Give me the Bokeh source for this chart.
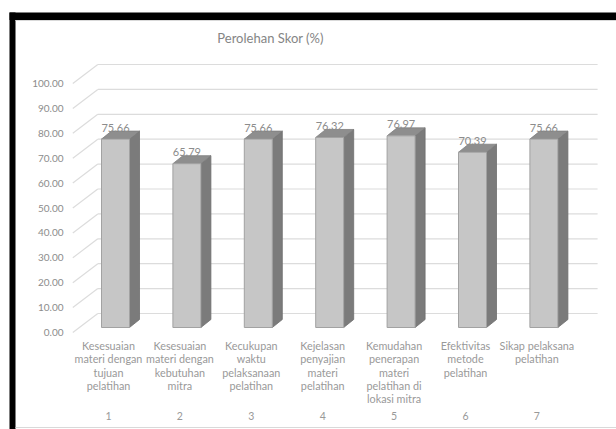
from bokeh.plotting import figure
from bokeh.models import Range1d
from bokeh.embed import file_html
from bokeh.resources import INLINE
from bokeh.core.properties import value

# ---------------- data ----------------
title_text = "Perolehan Skor (%)"
categories = [
    "Kesesuaian\nmateri dengan\ntujuan\npelatihan",
    "Kesesuaian\nmateri dengan\nkebutuhan\nmitra",
    "Kecukupan\nwaktu\npelaksanaan\npelatihan",
    "Kejelasan\npenyajian\nmateri\npelatihan",
    "Kemudahan\npenerapan\nmateri\npelatihan di\nlokasi mitra",
    "Efektivitas\nmetode\npelatihan",
    "Sikap pelaksana\npelatihan",
]
numbers = ["1", "2", "3", "4", "5", "6", "7"]
scores = [75.66, 65.79, 75.66, 76.32, 76.97, 70.39, 75.66]
y_ticks = [0, 10, 20, 30, 40, 50, 60, 70, 80, 90, 100]
y_tick_labels = ["%.2f" % t for t in y_ticks]

# ---------------- geometry ----------------
W, H = 616, 429
CAT_PX = 71.4        # pixels per category
VAL_PX = 2.49        # pixels per value unit
X_ORIGIN_PX = 72.3   # left end of front floor edge
Y_ORIGIN_PX = 332    # front floor edge (value 0)

X0 = 0.5 - X_ORIGIN_PX / CAT_PX
X1 = X0 + W / CAT_PX
Y1 = Y_ORIGIN_PX / VAL_PX
Y0 = Y1 - H / VAL_PX


def dxp(px):
    return X0 + px / CAT_PX


def dyp(py):
    return Y1 - py / VAL_PX


WALL_DX = 25 / CAT_PX
WALL_DY = 19 / VAL_PX
BAR_SHIFT_X = 7 / CAT_PX
BAR_BASE = 5 / VAL_PX
BAR_W = 28 / CAT_PX
BAR_DX = 10 / CAT_PX
BAR_DY = 8 / VAL_PX
N = len(scores)
FLOOR_L = 0.5
FLOOR_R = N + 0.5

FONT = value("Lato")
TXT = "#8c8c8c"
CAT_TXT = "#999999"

p = figure(width=W, height=H, x_range=Range1d(X0, X1), y_range=Range1d(Y0, Y1),
           toolbar_location=None, output_backend="svg", min_border=0,
           x_axis_type=None, y_axis_type=None)
p.grid.visible = False
p.outline_line_color = None
p.background_fill_color = "white"
p.border_fill_color = "white"

# frame decorations (black L border + light chart-area edges)
p.quad(left=[dxp(9), dxp(9)], right=[dxp(W), dxp(15)],
       top=[dyp(12), dyp(12)], bottom=[dyp(19.5), dyp(H)],
       fill_color="black", line_color=None)
p.segment(x0=[dxp(15), dxp(15)], y0=[dyp(20), dyp(427)],
          x1=[dxp(W), dxp(W)], y1=[dyp(20), dyp(427)],
          line_color="#d9d9d9", line_width=1)

# gridlines: side-wall diagonals + back wall horizontals
p.segment(x0=[FLOOR_L] * len(y_ticks), y0=y_ticks,
          x1=[FLOOR_L + WALL_DX] * len(y_ticks), y1=[t + WALL_DY for t in y_ticks],
          line_color="#dcdcdc", line_width=1.2)
p.segment(x0=[FLOOR_L + WALL_DX] * len(y_ticks), y0=[t + WALL_DY for t in y_ticks],
          x1=[FLOOR_R + WALL_DX] * len(y_ticks), y1=[t + WALL_DY for t in y_ticks],
          line_color="#dcdcdc", line_width=1.2)

# y tick labels
p.text(x=[dxp(63)] * len(y_ticks), y=y_ticks, text=y_tick_labels,
       text_align="right", text_baseline="middle", text_font=FONT,
       text_font_size="10px", text_color=TXT)

# 3D bars
xs_center = [i + 1 + BAR_SHIFT_X for i in range(N)]
lefts = [c - BAR_W / 2 for c in xs_center]
rights = [c + BAR_W / 2 for c in xs_center]
tops = [BAR_BASE + v for v in scores]

side_xs, side_ys, top_xs, top_ys = [], [], [], []
for l, r, t in zip(lefts, rights, tops):
    side_xs.append([r, r + BAR_DX, r + BAR_DX, r])
    side_ys.append([BAR_BASE, BAR_BASE + BAR_DY, t + BAR_DY, t])
    top_xs.append([l, r, r + BAR_DX, l + BAR_DX])
    top_ys.append([t, t, t + BAR_DY, t + BAR_DY])

p.patches(xs=side_xs, ys=side_ys, fill_color="#7b7b7b", line_color="#6f6f6f", line_width=0.8)
p.patches(xs=top_xs, ys=top_ys, fill_color="#8e8e8e", line_color="#7f7f7f", line_width=0.8)
p.quad(left=lefts, right=rights, bottom=[BAR_BASE] * N, top=tops,
       fill_color="#c6c6c6", line_color="#a2a2a2", line_width=1)

# data labels
p.text(x=xs_center, y=[t + BAR_DY for t in tops], text=["%.2f" % v for v in scores],
       text_align="center", text_baseline="middle", y_offset=-3.5,
       text_font=FONT, text_font_size="11px", text_color=TXT)

# category labels
cat_x = [i + 1 for i in range(N)]
p.text(x=cat_x, y=[dyp(338.5)] * N, text=categories, text_align="center",
       text_baseline="top", text_font=FONT, text_font_size="10.8px",
       text_line_height=1.02, text_color=CAT_TXT)
p.text(x=cat_x, y=[dyp(415)] * N, text=numbers, text_align="center",
       text_baseline="middle", text_font=FONT, text_font_size="10.5px", text_color=CAT_TXT)

# title
p.text(x=[dxp(270)], y=[dyp(37.5)], text=[title_text], text_align="center",
       text_baseline="middle", text_font=FONT, text_font_size="13px", text_color="#858585")

open("out.html", "w").write(file_html(p, INLINE))
